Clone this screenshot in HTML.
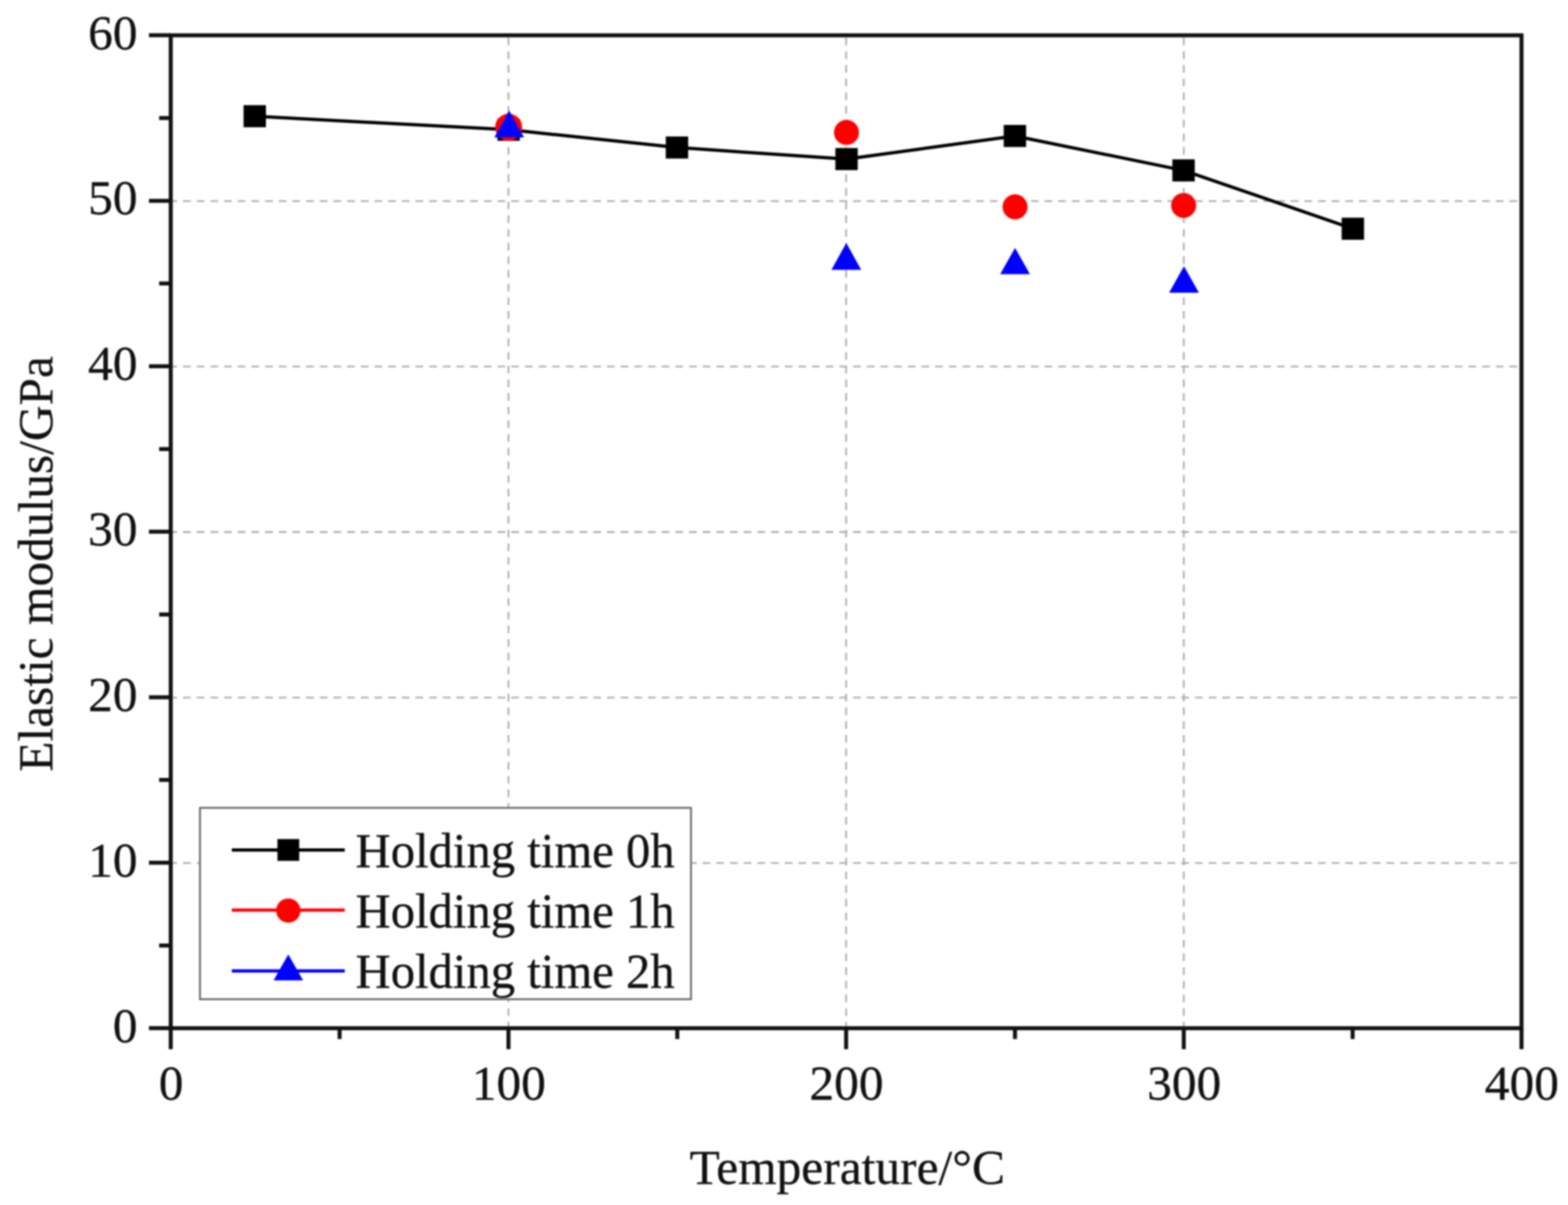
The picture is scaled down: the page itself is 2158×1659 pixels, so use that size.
<!DOCTYPE html>
<html><head><meta charset="utf-8"><title>Elastic modulus vs Temperature</title>
<style>html,body{margin:0;padding:0;background:#fff;overflow:hidden}svg{display:block}.t{font-family:'Liberation Serif','Times New Roman',serif;font-size:68px;fill:#111;stroke:#111;stroke-width:0.4px}</style>
</head><body>
<svg width="2158" height="1659" viewBox="0 0 2158 1659"><defs><filter id="soft" x="0" y="0" width="1" height="1" color-interpolation-filters="sRGB"><feGaussianBlur stdDeviation="1.0"/></filter></defs><g filter="url(#soft)"><rect x="0" y="0" width="2158" height="1659" fill="#fff"/>
<path d="M699.8 1417.45V48.6 M1164.5 1417.45V48.6 M1629.2 1417.45V48.6 M233.15 1188.2H2094.0 M233.15 960.3H2094.0 M233.15 732.5H2094.0 M233.15 504.7H2094.0 M233.15 276.8H2094.0" stroke="#aaaaaa" stroke-width="2.3" stroke-dasharray="10.5 8.32" fill="none"/>
<rect x="235.0" y="48.6" width="1859.0" height="1367.0" fill="none" stroke="#111" stroke-width="5.5"/>
<path d="M235.0 1415.6v29 M467.4 1415.6v15 M699.8 1415.6v29 M932.1 1415.6v15 M1164.5 1415.6v29 M1396.9 1415.6v15 M1629.2 1415.6v29 M1861.6 1415.6v15 M2094.0 1415.6v29 M235.0 1415.6h-30 M235.0 1301.7h-16 M235.0 1187.8h-30 M235.0 1073.8h-16 M235.0 959.9h-30 M235.0 846.0h-16 M235.0 732.1h-30 M235.0 618.2h-16 M235.0 504.3h-30 M235.0 390.3h-16 M235.0 276.4h-30 M235.0 162.5h-16 M235.0 48.6h-30" stroke="#111" stroke-width="5.5" fill="none"/>
<g class="t"><text x="235.5" y="1513.8" text-anchor="middle">0</text><text x="700.2" y="1513.8" text-anchor="middle">100</text><text x="1165.0" y="1513.8" text-anchor="middle">200</text><text x="1629.8" y="1513.8" text-anchor="middle">300</text><text x="2094.5" y="1513.8" text-anchor="middle">400</text><text x="189.2" y="1434.6" text-anchor="end">0</text><text x="189.2" y="1206.8" text-anchor="end">10</text><text x="189.2" y="978.9" text-anchor="end">20</text><text x="189.2" y="751.1" text-anchor="end">30</text><text x="189.2" y="523.3" text-anchor="end">40</text><text x="189.2" y="295.4" text-anchor="end">50</text><text x="189.2" y="67.6" text-anchor="end">60</text></g>
<text class="t" x="1166" y="1629.7" text-anchor="middle">Temperature/°C</text>
<text class="t" transform="translate(71.5 1062.5) rotate(-90)">Elastic modulus/GPa</text>
<polyline points="350.6,160.0 700,178.6 931.7,203.1 1165.1,219.0 1396.8,187.2 1628.9,234.6 1861.9,314.9" fill="none" stroke="#000" stroke-width="4.5" stroke-linejoin="round"/>
<rect x="335.20" y="144.80" width="30.8" height="30.4" fill="#000"/>
<rect x="684.60" y="163.40" width="30.8" height="30.4" fill="#000"/>
<rect x="916.30" y="187.90" width="30.8" height="30.4" fill="#000"/>
<rect x="1149.70" y="203.80" width="30.8" height="30.4" fill="#000"/>
<rect x="1381.40" y="172.00" width="30.8" height="30.4" fill="#000"/>
<rect x="1613.50" y="219.40" width="30.8" height="30.4" fill="#000"/>
<rect x="1846.50" y="299.70" width="30.8" height="30.4" fill="#000"/>
<circle cx="700" cy="175.2" r="18.6" fill="#f00"/>
<circle cx="1165" cy="182.3" r="17.2" fill="#f00"/>
<circle cx="1397" cy="284.8" r="17.2" fill="#f00"/>
<circle cx="1629" cy="282.9" r="17.2" fill="#f00"/>
<polygon points="700.75,152.2 721.25,189.3 680.25,189.3" fill="#00f"/>
<polygon points="1164.75,334.5 1185.25,371.6 1144.25,371.6" fill="#00f"/>
<polygon points="1397,341.3 1417.5,377.4 1376.5,377.4" fill="#00f"/>
<polygon points="1629.5,366.4 1650.0,402.9 1609.0,402.9" fill="#00f"/>
<rect x="275.2" y="1112.2" width="675.8" height="263.5" fill="#fff" stroke="#666" stroke-width="2.5"/>
<line x1="319" y1="1170.2" x2="474.5" y2="1170.2" stroke="#000" stroke-width="4.5"/>
<rect x="381.8" y="1155.2" width="30" height="30" fill="#000"/>
<text class="t" x="489.3" y="1193.5" style="font-size:67px">Holding time 0h</text>
<line x1="319" y1="1253" x2="474.5" y2="1253" stroke="#f00" stroke-width="4.5"/>
<circle cx="396.8" cy="1253.6" r="16.7" fill="#f00"/>
<text class="t" x="489.3" y="1276.5" style="font-size:67px">Holding time 1h</text>
<line x1="319" y1="1336.8" x2="474.5" y2="1336.8" stroke="#00f" stroke-width="4.5"/>
<polygon points="396.8,1314 417.1,1349.8 376.5,1349.8" fill="#00f"/>
<text class="t" x="489.3" y="1359.5" style="font-size:67px">Holding time 2h</text></g></svg>
</body></html>
